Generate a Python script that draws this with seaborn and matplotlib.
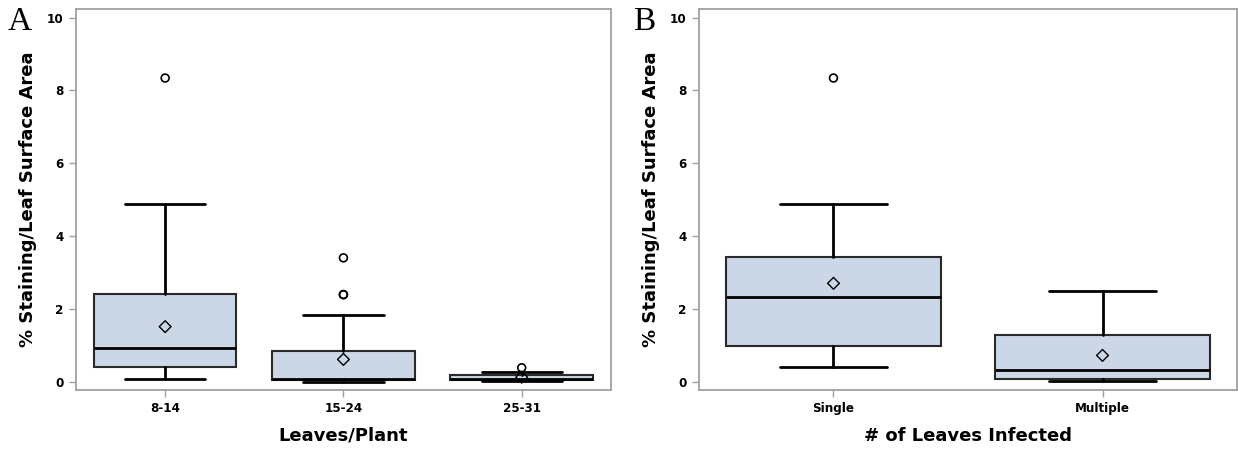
import pandas as pd
import matplotlib.pyplot as plt
import seaborn as sns

# panel A: % staining by leaves per plant
leaves_groups = ['8-14', '15-24', '25-31']
leaves_low = [0.06, 0.00, 0.01]
leaves_q1 = [0.40, 0.04, 0.05]
leaves_med = [0.91, 0.07, 0.08]
leaves_q3 = [2.40, 0.84, 0.17]
leaves_high = [4.88, 1.83, 0.26]
leaves_mean = [1.51, 0.61, 0.12]
leaves_outliers = [[8.34], [3.40, 2.39, 2.39], [0.38]]

# panel B: % staining by number of leaves infected
infect_groups = ['Single', 'Multiple']
infect_low = [0.40, 0.02]
infect_q1 = [0.97, 0.08]
infect_med = [2.33, 0.32]
infect_q3 = [3.41, 1.28]
infect_high = [4.88, 2.50]
infect_mean = [2.70, 0.72]
infect_outliers = [[8.34], []]

y_ticks = [0, 2, 4, 6, 8, 10]

sns.set_theme(style='white')
plt.rcParams['font.family'] = ['DejaVu Sans']
plt.rcParams['text.color'] = 'black'
plt.rcParams['axes.labelcolor'] = 'black'
plt.rcParams['xtick.labelcolor'] = 'black'
plt.rcParams['ytick.labelcolor'] = 'black'

BOX_FILL = '#cbd6e6'
FRAME = '#a0a0a0'


def draw_panel(ax, groups, low, q1, med, q3, high, mean, outliers, xlabel, capw):
    stats = [dict(label=g, whislo=a, q1=b, med=c, q3=d, whishi=e, fliers=[])
             for g, a, b, c, d, e in zip(groups, low, q1, med, q3, high)]
    ax.bxp(stats, positions=range(len(groups)), widths=0.8, capwidths=capw,
           patch_artist=True, showfliers=False,
           boxprops=dict(facecolor=BOX_FILL, edgecolor='#2a2a2a', linewidth=1.5),
           medianprops=dict(color='black', linewidth=2),
           whiskerprops=dict(color='black', linewidth=2),
           capprops=dict(color='black', linewidth=2))

    means = pd.DataFrame({'x': range(len(groups)), 'y': mean})
    sns.scatterplot(data=means, x='x', y='y', marker='D', s=36, facecolors='none',
                    edgecolor='black', linewidth=1.0, ax=ax, zorder=5)

    fl = pd.DataFrame([(i, v) for i, vals in enumerate(outliers) for v in vals],
                      columns=['x', 'y'])
    if len(fl):
        sns.scatterplot(data=fl, x='x', y='y', marker='o', s=32, facecolors='none',
                        edgecolor='black', linewidth=1.2, ax=ax, zorder=5)

    ax.set_xlim(-0.5, len(groups) - 0.5)
    ax.set_ylim(-0.23, 10.24)
    ax.set_xticks(range(len(groups)))
    ax.set_xticklabels(groups)
    ax.set_yticks(y_ticks)
    ax.set_yticklabels([str(t) for t in y_ticks])
    ax.tick_params(axis='both', which='both', length=5, width=1, color=FRAME,
                   labelsize=9.5, pad=4, left=True, bottom=True)
    for lab in ax.get_xticklabels() + ax.get_yticklabels():
        lab.set_fontweight('bold')
        lab.set_fontstretch('condensed')
    for sp in ax.spines.values():
        sp.set_color(FRAME)
        sp.set_linewidth(1.3)
    ax.set_xlabel(xlabel, fontsize=13, fontweight='bold', labelpad=8)
    ax.set_ylabel('% Staining/Leaf Surface Area', fontsize=13, fontweight='bold', labelpad=7)


fig = plt.figure(figsize=(12.38, 4.51), dpi=100)
ax1 = fig.add_axes([0.0614, 0.1353, 0.432, 0.845])
ax2 = fig.add_axes([0.5646, 0.1353, 0.4346, 0.845])

draw_panel(ax1, leaves_groups, leaves_low, leaves_q1, leaves_med, leaves_q3,
           leaves_high, leaves_mean, leaves_outliers, 'Leaves/Plant', 0.45)
draw_panel(ax2, infect_groups, infect_low, infect_q1, infect_med, infect_q3,
           infect_high, infect_mean, infect_outliers, '# of Leaves Infected', 0.4)

fig.text(20 / 1238, 1 - 22 / 451, 'A', family='Liberation Serif', fontsize=24,
         ha='center', va='center')
fig.text(644 / 1238, 1 - 22 / 451, 'B', family='Liberation Serif', fontsize=24,
         ha='center', va='center')

fig.savefig('out.png', dpi=100)
